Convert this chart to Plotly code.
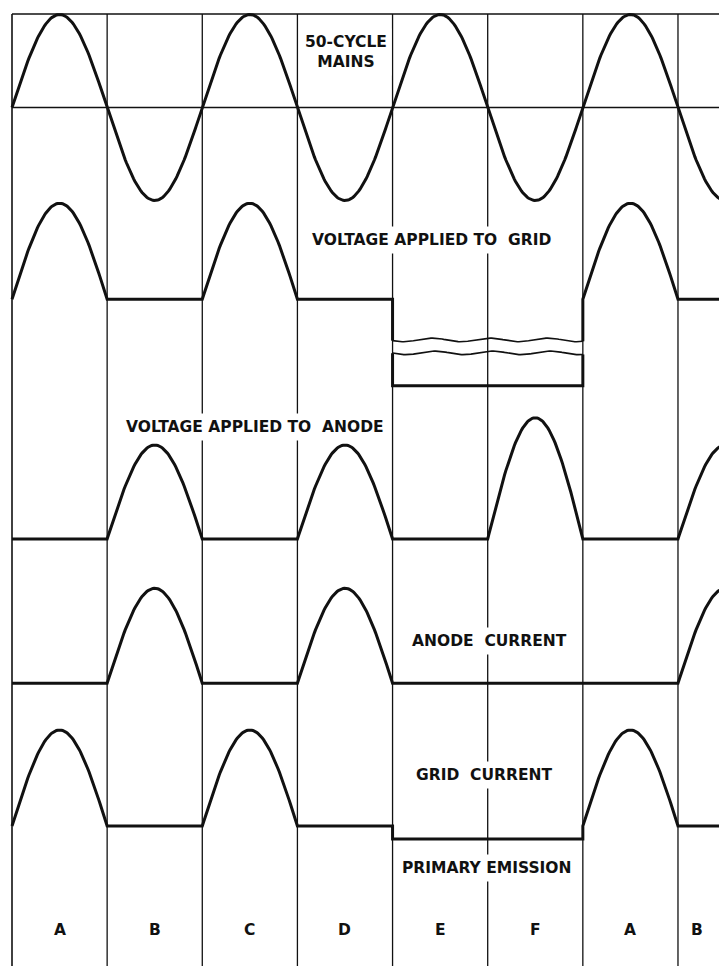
import numpy as np
import plotly.graph_objects as go

# ---------------- data (per half-cycle column) ----------------
columns = ["A", "B", "C", "D", "E", "F", "A", "B"]
mains_peak = [1, -1, 1, -1, 1, -1, 1, -1]
grid_voltage_peak = [1, 0, 1, 0, 0, 0, 1, 0]
grid_bias_level = [0, 0, 0, 0, -0.9, -0.9, 0, 0]
anode_voltage_peak = [0, 1, 0, 1, 0, 1.29, 0, 1]
anode_current_peak = [0, 1, 0, 1, 0, 0, 0, 1]
grid_current_peak = [1, 0, 1, 0, 0, 0, 1, 0]
primary_emission_level = [0, 0, 0, 0, -0.135, -0.135, 0, 0]

labels = [
    "50-CYCLE<br>MAINS",
    "VOLTAGE APPLIED TO\u00a0\u00a0GRID",
    "VOLTAGE APPLIED TO\u00a0\u00a0ANODE",
    "ANODE\u00a0\u00a0CURRENT",
    "GRID\u00a0\u00a0CURRENT",
    "PRIMARY EMISSION",
]

# ---------------- layout constants ----------------
W, H = 719, 967
LEFT_PX, COL_PX = 12, 95.14
TOP, BOTTOM = 14, 966
ROWS = {  # baseline (px from top), scale (px per unit)
    "mains": (107.5, 93),
    "gv": (299.3, 96),
    "av": (539, 94),
    "ac": (683.3, 95),
    "gc": (826, 96),
}
LW = 3
INK = "#111111"
FONT = dict(family="DejaVu Sans", size=15.5, color=INK, weight="bold")


def wave(peaks, levels=None, n=80):
    if levels is None:
        levels = [0] * len(peaks)
    xs, ys = [], []
    for k, (p, l) in enumerate(zip(peaks, levels)):
        t = np.linspace(0, 1, n)
        xs.extend(k + t)
        ys.extend(l + p * np.sin(np.pi * t))
    return np.array(xs), np.array(ys)


def to_px(row, ys):
    base, scale = ROWS[row]
    return base - scale * ys


fig = go.Figure()


def add_line(x, y, width=LW):
    fig.add_trace(go.Scatter(x=x, y=y, mode="lines",
                             line=dict(color=INK, width=width),
                             hoverinfo="skip", showlegend=False))


x, y = wave(mains_peak)
add_line(x, to_px("mains", y))
x, y = wave(grid_voltage_peak, grid_bias_level)
add_line(x, to_px("gv", y))
x, y = wave(anode_voltage_peak)
add_line(x, to_px("av", y))
x, y = wave(anode_current_peak)
add_line(x, to_px("ac", y))
x, y = wave(grid_current_peak, primary_emission_level)
add_line(x, to_px("gc", y))

# break symbol on the off-scale negative grid bias (columns E-F)
bias_cols = [k for k, v in enumerate(grid_bias_level) if v != 0]
x0, x1 = min(bias_cols), max(bias_cols) + 1
base, scale = ROWS["gv"]
depth = -min(grid_bias_level) * scale
y_up = base + 0.47 * depth
y_lo = base + 0.62 * depth
tt = np.linspace(0, 1, 120)
bx = x0 + (x1 - x0) * tt
wig_up = y_up + 1.8 * np.sin(2 * np.pi * 3.3 * tt + 0.4)
wig_lo = y_lo + 1.8 * np.sin(2 * np.pi * 3.3 * tt + 0.1)
pad = 0.03
fig.add_trace(go.Scatter(
    x=np.concatenate([[x0 - pad], bx, [x1 + pad, x1 + pad], bx[::-1], [x0 - pad]]),
    y=np.concatenate([[wig_up[0]], wig_up, [wig_up[-1], wig_lo[-1]], wig_lo[::-1], [wig_lo[0]]]),
    mode="lines", fill="toself", fillcolor="white", line=dict(width=0, color="white"),
    hoverinfo="skip", showlegend=False))
add_line(bx, wig_up, width=1.6)
add_line(bx, wig_lo, width=1.6)

# frame / column boundaries
shapes = []
for k in range(len(columns)):
    shapes.append(dict(type="line", xref="x", yref="y", x0=k, x1=k, y0=TOP, y1=BOTTOM,
                       line=dict(color=INK, width=1.3 if k else 1.6), layer="above"))
xr = [-LEFT_PX / COL_PX, (W - LEFT_PX) / COL_PX]
shapes.append(dict(type="line", xref="x", yref="y", x0=0, x1=xr[1], y0=TOP, y1=TOP,
                   line=dict(color=INK, width=1.6), layer="above"))
shapes.append(dict(type="line", xref="x", yref="y", x0=0, x1=xr[1],
                   y0=ROWS["mains"][0], y1=ROWS["mains"][0],
                   line=dict(color=INK, width=1.5), layer="above"))

# text labels
label_pos = [  # (x in columns, y in px)
    (3.51, 52),
    (4.41, 240),
    (2.55, 427),
    (5.02, 641),
    (4.96, 775),
    (4.99, 868),
]
ann = []
for text, (lx, ly) in zip(labels, label_pos):
    ann.append(dict(x=lx, y=ly, xref="x", yref="y", text=text, showarrow=False,
                    font=FONT, bgcolor="white", borderpad=4,
                    xanchor="center", yanchor="middle"))
for k, c in enumerate(columns):
    ann.append(dict(x=k + 0.5 if k < 7 else k + 0.2, y=930, xref="x", yref="y", text=c,
                    showarrow=False, font=FONT, xanchor="center", yanchor="middle"))

fig.update_layout(
    width=W, height=H,
    margin=dict(l=0, r=0, t=0, b=0),
    paper_bgcolor="white", plot_bgcolor="white",
    xaxis=dict(range=xr, visible=False, fixedrange=True),
    yaxis=dict(range=[H, 0], visible=False, fixedrange=True),
    shapes=shapes, annotations=ann,
    showlegend=False,
)

fig.write_html(
    "out.html",
    config={"displayModeBar": False},
    post_script="document.body.style.margin='0';document.body.style.overflow='hidden';",
)
